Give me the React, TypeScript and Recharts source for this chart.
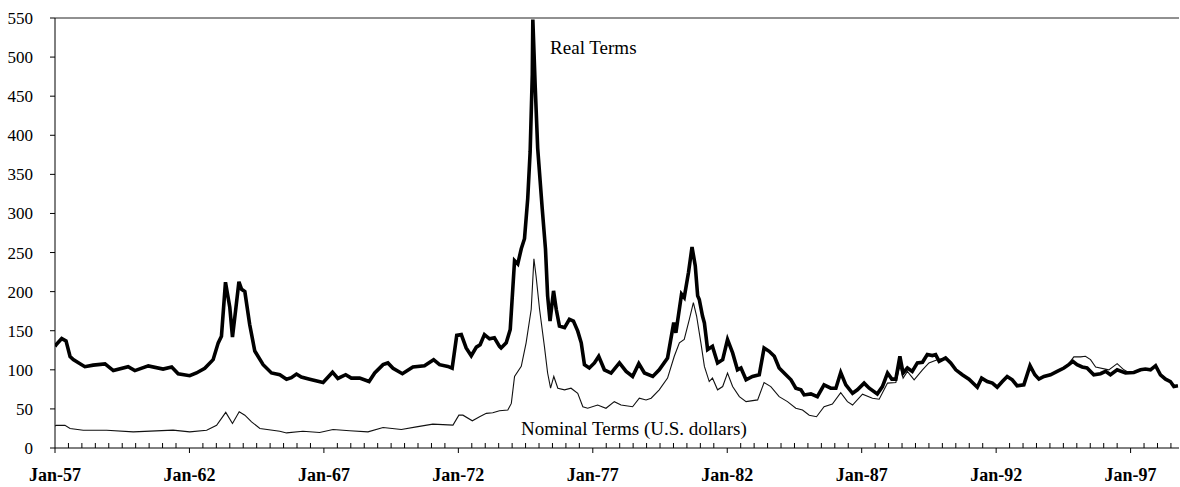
import { LineChart, Line, XAxis, YAxis, ReferenceLine, ReferenceDot } from 'recharts';

// [decimal year, index value]
const realTerms: [number, number][] = [
  [1957.0, 130], [1957.04, 132], [1957.25, 140], [1957.41, 137], [1957.56, 117], [1957.68, 113], [1957.87, 109],
  [1958.11, 104], [1958.42, 106], [1958.86, 107.5], [1959.17, 99], [1959.72, 104], [1959.97, 99], [1960.47, 105],
  [1961.02, 101], [1961.34, 103.6], [1961.58, 95], [1962.01, 92.4], [1962.26, 96], [1962.57, 102], [1962.88, 113],
  [1963.07, 134.5], [1963.19, 143], [1963.34, 212], [1963.5, 180], [1963.6, 142], [1963.72, 177], [1963.84, 212.6],
  [1963.94, 203], [1964.06, 200], [1964.24, 158], [1964.43, 124], [1964.74, 106.6], [1965.05, 96], [1965.36, 93.7],
  [1965.61, 88], [1965.79, 90], [1965.98, 94.6], [1966.16, 90.7], [1966.47, 88], [1966.97, 83.8], [1967.32, 97],
  [1967.52, 89], [1967.81, 93.7], [1968.02, 89.4], [1968.33, 89.4], [1968.68, 85], [1968.89, 96], [1969.2, 106.6],
  [1969.38, 108.8], [1969.57, 102], [1969.92, 95], [1970.31, 103.6], [1970.74, 105.3], [1971.08, 113], [1971.3, 106.6],
  [1971.61, 104.4], [1971.77, 102], [1971.94, 144], [1972.11, 145], [1972.29, 128], [1972.48, 118], [1972.67, 129],
  [1972.81, 132], [1972.97, 145], [1973.16, 139.7], [1973.34, 141], [1973.53, 130], [1973.59, 128], [1973.78, 134.5],
  [1973.93, 151.7], [1974.09, 239.7], [1974.21, 235.4], [1974.34, 254.8], [1974.46, 267.7], [1974.58, 319],
  [1974.67, 379], [1974.75, 478], [1974.77, 548], [1974.86, 461], [1974.95, 383.6], [1975.12, 306], [1975.24, 254.8],
  [1975.32, 194.6], [1975.41, 162.4], [1975.54, 201], [1975.64, 177.5], [1975.76, 156], [1975.95, 153.9],
  [1976.13, 164.6], [1976.28, 162.4], [1976.44, 149.5], [1976.57, 134.5], [1976.69, 106.6], [1976.87, 102.3],
  [1977.06, 108.8], [1977.22, 117.3], [1977.43, 100], [1977.68, 95.9], [1977.99, 108.8], [1978.24, 98],
  [1978.48, 91.5], [1978.71, 107.9], [1978.92, 95.9], [1979.23, 91.5], [1979.47, 100], [1979.78, 115.2],
  [1980.01, 160.3], [1980.09, 147.4], [1980.3, 196.8], [1980.4, 192.5], [1980.56, 224.7], [1980.69, 257],
  [1980.81, 233.2], [1980.9, 194.6], [1980.96, 190], [1981.08, 168.8], [1981.15, 160], [1981.27, 125.9],
  [1981.45, 130], [1981.64, 108.8], [1981.83, 113], [1982.01, 138.8], [1982.2, 121.6], [1982.38, 100],
  [1982.51, 102.3], [1982.7, 87.2], [1982.94, 91.5], [1983.19, 93.7], [1983.37, 128], [1983.56, 123.7],
  [1983.75, 117.3], [1983.93, 102.3], [1984.18, 93.7], [1984.37, 87.2], [1984.55, 76.5], [1984.74, 74.4],
  [1984.86, 67.9], [1985.11, 69.2], [1985.35, 65.7], [1985.6, 80.8], [1985.85, 76.5], [1986.04, 76.5],
  [1986.22, 96.6], [1986.41, 80.8], [1986.66, 70], [1986.84, 74.4], [1987.09, 83], [1987.28, 76.5], [1987.58, 69.2],
  [1987.77, 78.6], [1987.96, 95.9], [1988.12, 88.1], [1988.27, 88.1], [1988.42, 117.3], [1988.54, 95.9],
  [1988.7, 102.3], [1988.88, 98], [1989.07, 108.8], [1989.26, 109.6], [1989.44, 119.5], [1989.63, 118.2],
  [1989.75, 119.5], [1989.88, 110.8], [1990.12, 115.2], [1990.31, 108.8], [1990.5, 100], [1990.74, 93.7],
  [1990.99, 88.1], [1991.3, 77.8], [1991.46, 89.4], [1991.67, 85], [1991.86, 83], [1992.04, 77.8], [1992.23, 85],
  [1992.41, 91.5], [1992.6, 87.2], [1992.78, 79.5], [1993.03, 80.8], [1993.26, 105.3], [1993.44, 93.7],
  [1993.59, 88.1], [1993.78, 91.5], [1994.02, 93.7], [1994.27, 98], [1994.52, 102.3], [1994.7, 106.6],
  [1994.85, 110.8], [1995.01, 106.6], [1995.2, 103.6], [1995.38, 102.3], [1995.63, 93.7], [1995.88, 95],
  [1996.07, 98], [1996.25, 93.7], [1996.5, 100], [1996.81, 95.9], [1997.12, 96.6], [1997.37, 100], [1997.55, 101],
  [1997.74, 100], [1997.93, 105.3], [1998.11, 93.7], [1998.3, 88.1], [1998.48, 85], [1998.61, 78.6], [1998.76, 79.5],
];

const nominalTerms: [number, number][] = [
  [1957.0, 28], [1957.04, 29], [1957.37, 29], [1957.56, 25], [1958.05, 22.8], [1958.92, 22.8], [1959.91, 20.6],
  [1961.39, 22.8], [1962.01, 20.6], [1962.64, 22.8], [1963.01, 29], [1963.35, 45.6], [1963.6, 31.4], [1963.85, 46.4],
  [1964.06, 42], [1964.31, 33.5], [1964.62, 25], [1965.36, 21.5], [1965.61, 19.3], [1966.22, 21.5], [1966.84, 19.8],
  [1967.34, 23.7], [1967.96, 22], [1968.64, 20.6], [1969.2, 26.3], [1969.88, 23.7], [1970.44, 27], [1971.05, 30.5],
  [1971.8, 29.3], [1972.02, 42], [1972.17, 42], [1972.52, 34.8], [1972.79, 40], [1973.04, 44.3], [1973.28, 45],
  [1973.53, 47.7], [1973.84, 48.6], [1973.97, 57], [1974.09, 91.5], [1974.34, 104.4], [1974.52, 134.5],
  [1974.71, 177.5], [1974.81, 242], [1974.89, 220], [1975.02, 177.5], [1975.2, 130], [1975.32, 95.9], [1975.43, 76.5],
  [1975.55, 91.5], [1975.7, 76.5], [1975.95, 74.4], [1976.19, 76.5], [1976.44, 70], [1976.63, 52.8], [1976.81, 50.8],
  [1977.18, 55], [1977.49, 50.8], [1977.8, 59.3], [1978.05, 55], [1978.48, 52.8], [1978.73, 63.7], [1978.98, 61.5],
  [1979.17, 63.7], [1979.47, 74.4], [1979.78, 89.4], [1980.03, 117.3], [1980.22, 134.5], [1980.4, 138.8],
  [1980.59, 164.6], [1980.74, 186], [1980.86, 168.8], [1981.02, 134.5], [1981.15, 104.4], [1981.33, 85],
  [1981.45, 89.4], [1981.64, 74.4], [1981.83, 78.6], [1982.01, 95.9], [1982.2, 78.6], [1982.45, 65.7], [1982.7, 59.3],
  [1983.13, 61.5], [1983.37, 83.8], [1983.62, 78.6], [1983.93, 65.7], [1984.24, 59.3], [1984.55, 50.8], [1984.8, 48.6],
  [1985.05, 42], [1985.32, 40], [1985.6, 52.8], [1985.91, 56.3], [1986.22, 70.9], [1986.47, 59.3], [1986.66, 55],
  [1987.03, 68.8], [1987.4, 63.7], [1987.65, 62.4], [1987.96, 83], [1988.27, 83.8], [1988.42, 105], [1988.54, 89.4],
  [1988.7, 98], [1988.95, 87.2], [1989.26, 100], [1989.5, 108.8], [1989.81, 113], [1990.12, 115.2], [1990.31, 109],
  [1990.5, 100.5], [1990.74, 94], [1990.99, 88], [1991.3, 78.5], [1991.46, 90], [1991.67, 86], [1991.86, 83.5],
  [1992.04, 78], [1992.23, 85.5], [1992.41, 92], [1992.6, 87.5], [1992.78, 79.5], [1993.03, 81], [1993.26, 105.3],
  [1993.44, 93], [1993.59, 87.5], [1993.78, 91], [1994.02, 93.5], [1994.27, 98.5], [1994.52, 103], [1994.7, 108],
  [1994.89, 116.5], [1995.14, 116.5], [1995.32, 117.3], [1995.51, 113], [1995.7, 103.6], [1996.19, 100],
  [1996.5, 107.9], [1996.75, 100], [1996.93, 96.6], [1997.12, 96.6], [1997.37, 100], [1997.55, 101], [1997.74, 100],
  [1997.93, 105], [1998.11, 93], [1998.3, 88], [1998.48, 84], [1998.61, 78], [1998.76, 80],
];

const yTicks = [0, 50, 100, 150, 200, 250, 300, 350, 400, 450, 500, 550];
const majorYears = [1957, 1962, 1967, 1972, 1977, 1982, 1987, 1992, 1997];
const xTicks = Array.from({ length: 84 }, (_, i) => 1957 + i * 0.5);

const realData = realTerms.map(([t, v]) => ({ t, v }));
const nominalData = nominalTerms.map(([t, v]) => ({ t, v }));

const FONT = '"Liberation Serif", "Times New Roman", serif';

const XTick = (props: any) => {
  const { x, y, payload } = props;
  const v = payload.value as number;
  if (majorYears.includes(v)) {
    return (
      <g>
        <line x1={x} x2={x} y1={y} y2={y + 5} stroke="#000" strokeWidth={1} />
        <text x={x} y={y + 33} textAnchor="middle" fontFamily={FONT} fontSize={18} fontWeight="bold" fill="#000">
          {`Jan-${String(v).slice(2)}`}
        </text>
      </g>
    );
  }
  return <line x1={x} x2={x} y1={y} y2={y - 5} stroke="#000" strokeWidth={1} />;
};

export default function App() {
  return (
    <div style={{ position: 'absolute', left: 0, top: 0, background: '#fff' }}>
      <LineChart width={1180} height={487} margin={{ top: 18, right: 1, left: 0, bottom: 0 }}>
        <XAxis
          type="number"
          dataKey="t"
          domain={[1957, 1998.8]}
          ticks={xTicks}
          interval={0}
          tick={<XTick />}
          tickLine={false}
          tickSize={0}
          tickMargin={0}
          height={39}
          axisLine={{ stroke: '#000' }}
          allowDataOverflow
        />
        <YAxis
          type="number"
          domain={[0, 550]}
          ticks={yTicks}
          interval={0}
          width={55}
          tickSize={5}
          tickMargin={17}
          axisLine={{ stroke: '#000' }}
          tickLine={{ stroke: '#000' }}
          tick={{ fill: '#000', fontSize: 17, fontFamily: FONT }}
        />
        <ReferenceLine y={550} stroke="#222" strokeWidth={1} />
        <Line data={nominalData} dataKey="v" type="linear" stroke="#111" strokeWidth={1.1} dot={false} isAnimationActive={false} />
        <Line data={realData} dataKey="v" type="linear" stroke="#000" strokeWidth={3.6} dot={false} isAnimationActive={false} />
        <ReferenceDot
          x={1977.02}
          y={512}
          r={0}
          fill="none"
          stroke="none"
          label={{ value: 'Real Terms', position: 'center', fill: '#000', fontSize: 19, fontFamily: FONT }}
        />
        <ReferenceDot
          x={1978.53}
          y={25}
          r={0}
          fill="none"
          stroke="none"
          label={{ value: 'Nominal Terms (U.S. dollars)', position: 'center', fill: '#000', fontSize: 19, fontFamily: FONT }}
        />
      </LineChart>
    </div>
  );
}
